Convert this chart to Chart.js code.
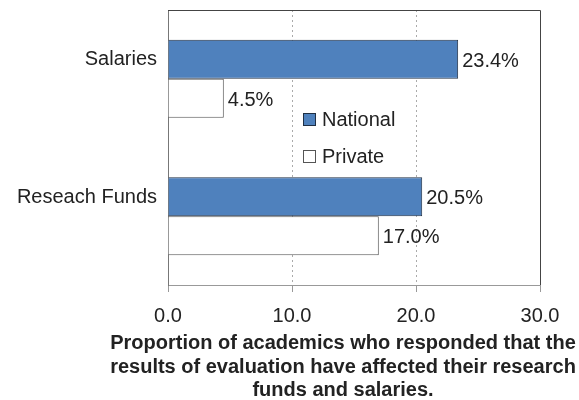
<!DOCTYPE html>
<html>
<head>
<meta charset="utf-8">
<script src="https://cdn.jsdelivr.net/npm/chart.js@4/dist/chart.umd.min.js"></script>
<style>
  html, body { margin: 0; padding: 0; background: #fff; }
  #wrap { width: 579px; height: 400px; }
</style>
</head>
<body>
<div id="wrap"><canvas id="bars" width="579" height="400"></canvas></div>
<script>
const categories = ["Salaries", "Reseach Funds"];
const national = [23.4, 20.5];
const privateVals = [4.5, 17.0];
const seriesNames = ["National", "Private"];
const axisTitle = [
    "Proportion of academics who responded that the",
    "results of evaluation have affected their research",
    "funds and salaries."
];

const FONT = "'Liberation Sans', Arial, Helvetica, sans-serif";

// value labels at the end of each bar
const valueLabels = {
    id: "valueLabels",
    afterDatasetsDraw(chart) {
        const ctx = chart.ctx;
        ctx.save();
        ctx.font = "20px " + FONT;
        ctx.fillStyle = "#222";
        ctx.textAlign = "left";
        ctx.textBaseline = "middle";
        chart.data.datasets.forEach((ds, i) => {
            chart.getDatasetMeta(i).data.forEach((bar, j) => {
                ctx.fillText(ds.data[j].toFixed(1) + "%", bar.x + 4, bar.y + 2);
            });
        });
        ctx.restore();
    }
};

// box round the plot, legend inside it, and the axis title
// (drawn here because the scale title would squeeze lines to the plot width)
const frameAndLegend = {
    id: "frameAndLegend",
    afterDraw(chart) {
        const ctx = chart.ctx;
        const a = chart.chartArea;
        ctx.save();
        ctx.strokeStyle = "#444";
        ctx.lineWidth = 1;
        ctx.beginPath();
        ctx.moveTo(a.left, a.top + 0.5);
        ctx.lineTo(a.right + 0.5, a.top + 0.5);
        ctx.lineTo(a.right + 0.5, a.bottom);
        ctx.stroke();

        const lx = a.left + 135, ly = a.top + 103;
        ctx.font = "20px " + FONT;
        ctx.textBaseline = "middle";
        ctx.textAlign = "left";
        chart.data.datasets.forEach((ds, i) => {
            const y = ly + i * 37;
            ctx.fillStyle = ds.backgroundColor;
            ctx.fillRect(lx + 0.5, y + 0.5, 12, 12);
            ctx.strokeStyle = ds.borderColor;
            ctx.strokeRect(lx + 0.5, y + 0.5, 12, 12);
            ctx.fillStyle = "#222";
            ctx.fillText(ds.label, lx + 19, y + 7);
        });

        ctx.font = "bold 20px " + FONT;
        ctx.textAlign = "center";
        ctx.textBaseline = "alphabetic";
        ctx.fillStyle = "#222";
        axisTitle.forEach((line, i) => {
            ctx.fillText(line, 343, 349 + i * 23.5);
        });
        ctx.restore();
    }
};

new Chart(document.getElementById("bars").getContext("2d"), {
    type: "bar",
    data: {
        labels: categories,
        datasets: [{
            label: seriesNames[0],
            data: national,
            backgroundColor: "#4f81bd",
            borderColor: "#1f2f44",
            borderWidth: 1
        }, {
            label: seriesNames[1],
            data: privateVals,
            backgroundColor: "#ffffff",
            borderColor: "#555555",
            borderWidth: 1
        }]
    },
    options: {
        indexAxis: "y",
        responsive: false,
        animation: false,
        layout: { padding: { top: 10, right: 39, bottom: 60, left: 0 } },
        datasets: { bar: { categoryPercentage: 0.567, barPercentage: 1.0 } },
        plugins: {
            legend: { display: false },
            tooltip: { enabled: false }
        },
        scales: {
            x: {
                min: 0,
                max: 30,
                ticks: {
                    stepSize: 10,
                    padding: 12,
                    color: "#222",
                    font: { family: FONT, size: 20 },
                    callback: v => v.toFixed(1)
                },
                grid: {
                    color: c => (c.tick && (c.tick.value === 10 || c.tick.value === 20)) ? "#aaaaaa" : "rgba(0,0,0,0)",
                    tickColor: "#999",
                    tickLength: 7,
                    tickBorderDash: []
                },
                border: { display: true, color: "#999", dash: [2, 3] },
                afterFit: s => { s.paddingLeft = 0; s.paddingRight = 0; }
            },
            y: {
                ticks: {
                    padding: 11,
                    labelOffset: -19,
                    color: "#222",
                    font: { family: FONT, size: 20 }
                },
                grid: { display: false, drawTicks: false },
                border: { display: true, color: "#777" },
                afterFit: s => { s.width = 168; s.paddingTop = 0; s.paddingBottom = 0; }
            }
        }
    },
    plugins: [valueLabels, frameAndLegend]
});
</script>
</body>
</html>
